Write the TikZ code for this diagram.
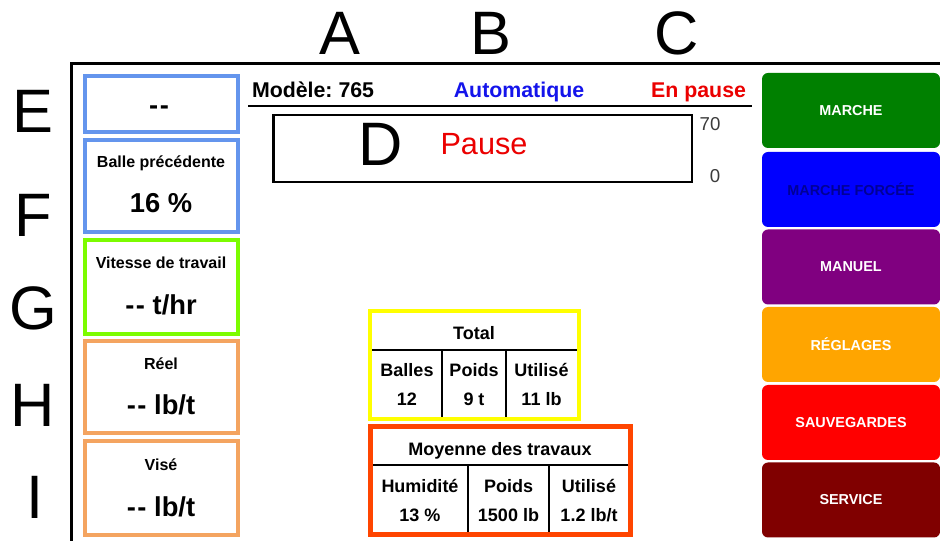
\documentclass[tikz,border=0pt]{standalone}
\usepackage{fontspec}
\setmainfont{Liberation Sans}
\newcommand{\dsh}{-\kern1.2pt-}
\frenchspacing
\definecolor{cblue}{RGB}{100,149,237}
\definecolor{lgreen}{RGB}{124,252,0}
\definecolor{sandy}{RGB}{244,164,96}
\definecolor{ylw}{RGB}{255,255,0}
\definecolor{ored}{RGB}{255,69,0}
\definecolor{bgreen}{RGB}{0,128,0}
\definecolor{bblue}{RGB}{0,0,255}
\definecolor{bpurple}{RGB}{128,0,128}
\definecolor{borange}{RGB}{255,165,0}
\definecolor{bred}{RGB}{255,0,0}
\definecolor{bmaroon}{RGB}{128,0,0}
\definecolor{dblue}{RGB}{0,0,150}
\definecolor{hblue}{RGB}{20,20,235}
\definecolor{hred}{RGB}{235,0,0}
\definecolor{scalegray}{RGB}{60,60,60}
\begin{document}
\begin{tikzpicture}[x=0.75pt,y=-0.75pt,
  every node/.style={inner sep=0pt,outer sep=0pt},
  biglbl/.style={font=\fontsize{46}{46}\selectfont,anchor=base},
  hdr/.style={font=\fontsize{16}{16}\selectfont\bfseries,anchor=base},
  small/.style={font=\fontsize{12}{12}\selectfont\bfseries,anchor=base},
  large/.style={font=\fontsize{20.5}{20.5}\selectfont\bfseries,anchor=base},
  tbl/.style={font=\fontsize{13.5}{13.5}\selectfont\bfseries,anchor=base},
  panel/.style={line width=3pt},
  tline/.style={line width=1.5pt,black},
  btn/.style={minimum width=133.5pt,minimum height=56.25pt,rounded corners=4.5pt,
    font=\fontsize{10.8}{10.8}\selectfont\bfseries,text=white}
]
\useasboundingbox (0,0) rectangle (940,541);
\fill[white] (0,0) rectangle (940,541);

% frame
\draw[line width=2.25pt] (71,541) -- (71,64) -- (940,64);

% big reference letters
\node[biglbl] (la) at (340,55) {A};
\node[biglbl] (lb) at (491,55) {B};
\node[biglbl] (lc) at (677,55) {C};
\node[biglbl] (ld) at (381,166) {D};
\node[biglbl] (le) at (33,133) {E};
\node[biglbl] (lf) at (33,237) {F};
\node[biglbl] (lg) at (33,330) {G};
\node[biglbl] (lh) at (33,427) {H};
\node[biglbl] (li) at (35,519) {I};

% left panels
\draw[panel,cblue] (84.5,76) rectangle (238,132);
\draw[panel,cblue] (84.5,140) rectangle (238,232);
\draw[panel,lgreen] (84.5,240) rectangle (238,334);
\draw[panel,sandy] (84.5,341) rectangle (238,433);
\draw[panel,sandy] (84.5,441) rectangle (238,535);

\node[large] (etxt) at (159,115) {\dsh};
\node[small] (ftit) at (161,168) {Balle précédente};
\node[large] (fval) at (161,213) {16 \%};
\node[small] (gtit) at (161,269) {Vitesse de travail};
\node[large] (gval) at (161,315) {\dsh{} t/hr};
\node[small] (htit) at (161,370) {Réel};
\node[large] (hval) at (161,415) {\dsh{} lb/t};
\node[small] (itit) at (161,471) {Visé};
\node[large] (ival) at (161,517) {\dsh{} lb/t};

% header
\node[hdr,anchor=base west] (model) at (252,98) {Modèle: 765};
\node[hdr,text=hblue] (auto) at (519,98) {Automatique};
\node[hdr,anchor=base east,text=hred] (paused) at (746,98) {En pause};
\draw[line width=1.5pt] (248,106) -- (752,106);

% D bar
\draw[line width=1.9pt] (273.5,115) rectangle (692,182);
\node[font=\fontsize{23}{23}\selectfont,anchor=base,text=hred] (pausetxt) at (484,155) {Pause};
\node[font=\fontsize{14}{14}\selectfont,anchor=base,text=scalegray] (s70) at (710,131) {70};
\node[font=\fontsize{14}{14}\selectfont,anchor=base,text=scalegray] (s0) at (715,183) {0};

% Total table
\draw[line width=3pt,ylw] (370,311) rectangle (579,419);
\draw[tline] (372,350) -- (577,350);
\draw[tline] (442,350) -- (442,417);
\draw[tline] (506,350) -- (506,417);
\node[tbl] (ttot) at (474,340) {Total};
\node[tbl] (tb1) at (407,377) {Balles};
\node[tbl] (tb2) at (407,406) {12};
\node[tbl] (tp1) at (474,377) {Poids};
\node[tbl] (tp2) at (474,406) {9 t};
\node[tbl] (tu1) at (541.5,377) {Utilisé};
\node[tbl] (tu2) at (541.5,406) {11 lb};

% Moyenne table
\draw[line width=3.75pt,ored] (370.5,426.5) rectangle (630.5,534.5);
\draw[tline] (373,465) -- (628,465);
\draw[tline] (468,465) -- (468,532);
\draw[tline] (549,465) -- (549,532);
\node[tbl] (mtit) at (500,456) {Moyenne des travaux};
\node[tbl] (mh1) at (420,493) {Humidité};
\node[tbl] (mh2) at (420,522) {13 \%};
\node[tbl] (mp1) at (508.5,493) {Poids};
\node[tbl] (mp2) at (508.5,522) {1500 lb};
\node[tbl] (mu1) at (589,493) {Utilisé};
\node[tbl] (mu2) at (589,522) {1.2 lb/t};

% buttons
\node[btn,fill=bgreen] (b1) at (851,110.5) {MARCHE};
\node[btn,fill=bblue,text=dblue] (b2) at (851,189.5) {MARCHE FORCÉE};
\node[btn,fill=bpurple] (b3) at (851,267) {MANUEL};
\node[btn,fill=borange] (b4) at (851,344.5) {RÉGLAGES};
\node[btn,fill=bred] (b5) at (851,422.5) {SAUVEGARDES};
\node[btn,fill=bmaroon] (b6) at (851,500) {SERVICE};
\end{tikzpicture}
\end{document}
